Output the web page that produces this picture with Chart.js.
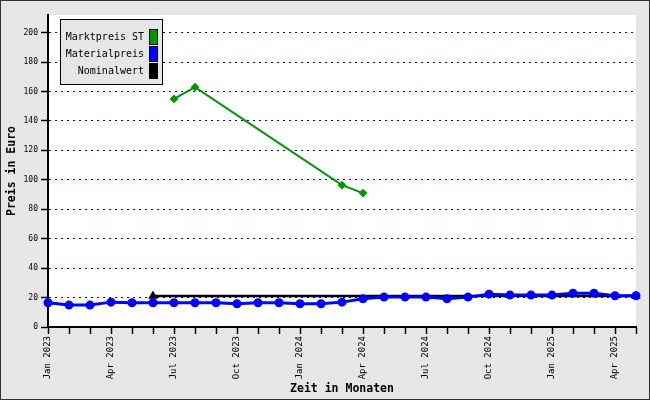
<!DOCTYPE html>
<html>
<head>
<meta charset="utf-8">
<script src="https://cdn.jsdelivr.net/npm/chart.js@4"></script>
<style>
  body { margin: 0; background: #e6e6e6; }
  canvas { display: block; }
</style>
</head>
<body>
<canvas id="chart" width="650" height="400"></canvas>
<script>
// monthly categories Jan 2023 .. May 2025
const months = [
  'Jan 2023', 'Feb 2023', 'Mar 2023', 'Apr 2023', 'May 2023', 'Jun 2023',
  'Jul 2023', 'Aug 2023', 'Sep 2023', 'Oct 2023', 'Nov 2023', 'Dec 2023',
  'Jan 2024', 'Feb 2024', 'Mar 2024', 'Apr 2024', 'May 2024', 'Jun 2024',
  'Jul 2024', 'Aug 2024', 'Sep 2024', 'Oct 2024', 'Nov 2024', 'Dec 2024',
  'Jan 2025', 'Feb 2025', 'Mar 2025', 'Apr 2025', 'May 2025'
];

const marktpreis = [
  null, null, null, null, null, null, 155, 163, null, null, null, null,
  null, null, 96.4, 91, null, null, null, null, null, null, null, null,
  null, null, null, null, null
];

const materialpreis = [
  16.5, 14.9, 14.9, 16.9, 16.5, 16.5, 16.5, 16.5, 16.5, 15.8, 16.5, 16.5,
  15.8, 15.8, 16.9, 19.2, 20.3, 20.3, 20.3, 19.2, 20.3, 22.3, 21.7, 21.7,
  21.7, 23.0, 23.0, 21.2, 21.2
];

const nominalwert = [
  null, null, null, null, null, 21, null, null, null, null, null, null,
  null, null, null, null, null, null, null, null, null, null, null, null,
  null, null, null, null, 21
];

const yTicks = [0, 20, 40, 60, 80, 100, 120, 140, 160, 180, 200];

const mono = 'DejaVu Sans Mono';

// grey page, white plot area, thin frame
const backdrop = {
  id: 'backdrop',
  beforeDraw(chart) {
    const { ctx, chartArea: a } = chart;
    ctx.save();
    ctx.fillStyle = '#e6e6e6';
    ctx.fillRect(0, 0, chart.width, chart.height);
    ctx.fillStyle = '#ffffff';
    ctx.fillRect(a.left, a.top, a.right - a.left, a.bottom - a.top);
    ctx.strokeStyle = '#333';
    ctx.lineWidth = 1;
    ctx.strokeRect(0.5, 0.5, chart.width - 1, chart.height - 1);
    ctx.restore();
  }
};

// legend box in top-left of plot, text right-aligned with swatch after it
const boxLegend = {
  id: 'boxLegend',
  afterDraw(chart) {
    const { ctx } = chart;
    const x = 60, y = 19, w = 102, h = 65;
    ctx.save();
    ctx.fillStyle = '#e6e6e6';
    ctx.fillRect(x, y, w, h);
    ctx.strokeStyle = '#000';
    ctx.lineWidth = 1;
    ctx.strokeRect(x + 0.5, y + 0.5, w, h);
    ctx.font = '10px "' + mono + '"';
    ctx.textAlign = 'right';
    ctx.textBaseline = 'middle';
    chart.data.datasets.forEach((ds, i) => {
      const cy = y + 18 + i * 17;
      ctx.fillStyle = '#000';
      ctx.fillText(ds.label, x + 84, cy);
      ctx.fillStyle = ds.borderColor;
      ctx.fillRect(x + 90, cy - 7, 7, 14);
      ctx.strokeStyle = '#000';
      ctx.strokeRect(x + 89.5, cy - 7.5, 8, 15);
    });
    ctx.restore();
  }
};

new Chart(document.getElementById('chart'), {
  type: 'line',
  data: {
    labels: months,
    datasets: [
      {
        label: 'Marktpreis ST',
        data: marktpreis,
        borderColor: '#009600',
        backgroundColor: '#009600',
        borderWidth: 2,
        pointStyle: 'rectRot',
        pointRadius: 3,
        spanGaps: true,
        tension: 0
      },
      {
        label: 'Materialpreis',
        data: materialpreis,
        borderColor: '#0000ff',
        backgroundColor: '#0000ff',
        borderWidth: 3,
        pointStyle: 'circle',
        pointRadius: 3,
        tension: 0
      },
      {
        label: 'Nominalwert',
        data: nominalwert,
        borderColor: '#000000',
        backgroundColor: '#000000',
        borderWidth: 2.5,
        pointStyle: 'triangle',
        pointRadius: 3,
        spanGaps: true,
        tension: 0
      }
    ]
  },
  options: {
    responsive: false,
    animation: false,
    layout: { padding: { top: 15, right: 14, left: 0, bottom: 0 } },
    plugins: {
      legend: { display: false },
      tooltip: { enabled: false }
    },
    scales: {
      x: {
        afterFit(scale) { scale.height = 73; },
        grid: {
          drawOnChartArea: false,
          drawTicks: true,
          tickLength: 7,
          tickColor: '#000',
          tickWidth: 1.5
        },
        border: { color: '#000', width: 2 },
        ticks: {
          autoSkip: false,
          maxRotation: 90,
          minRotation: 90,
          padding: 2,
          color: '#000',
          font: { family: mono, size: 9 },
          callback(value, index) {
            return index % 3 === 0 ? months[index] : '';
          }
        },
        title: {
          display: true,
          text: 'Zeit in Monaten',
          color: '#000',
          font: { family: mono, size: 11.5, weight: 'bold' },
          padding: { top: 0, bottom: 4 }
        }
      },
      y: {
        min: 0,
        max: 212,
        afterFit(scale) { scale.width = 48; },
        afterBuildTicks(scale) {
          scale.ticks = yTicks.map(v => ({ value: v }));
        },
        grid: {
          color(c) { return c.tick && c.tick.value === 0 ? 'rgba(0,0,0,0)' : '#0000ff'; },
          tickColor: '#000',
          tickLength: 7,
          tickWidth: 1.5,
          lineWidth: 1
        },
        border: { color: '#000', width: 2, dash: [2, 4] },
        ticks: {
          padding: 3,
          color: '#000',
          font: { family: mono, size: 8 }
        },
        title: {
          display: true,
          text: 'Preis in Euro',
          color: '#000',
          font: { family: mono, size: 11.5, weight: 'bold' },
          padding: { top: 5, bottom: 5 }
        }
      }
    }
  },
  plugins: [backdrop, boxLegend]
});
</script>
</body>
</html>
